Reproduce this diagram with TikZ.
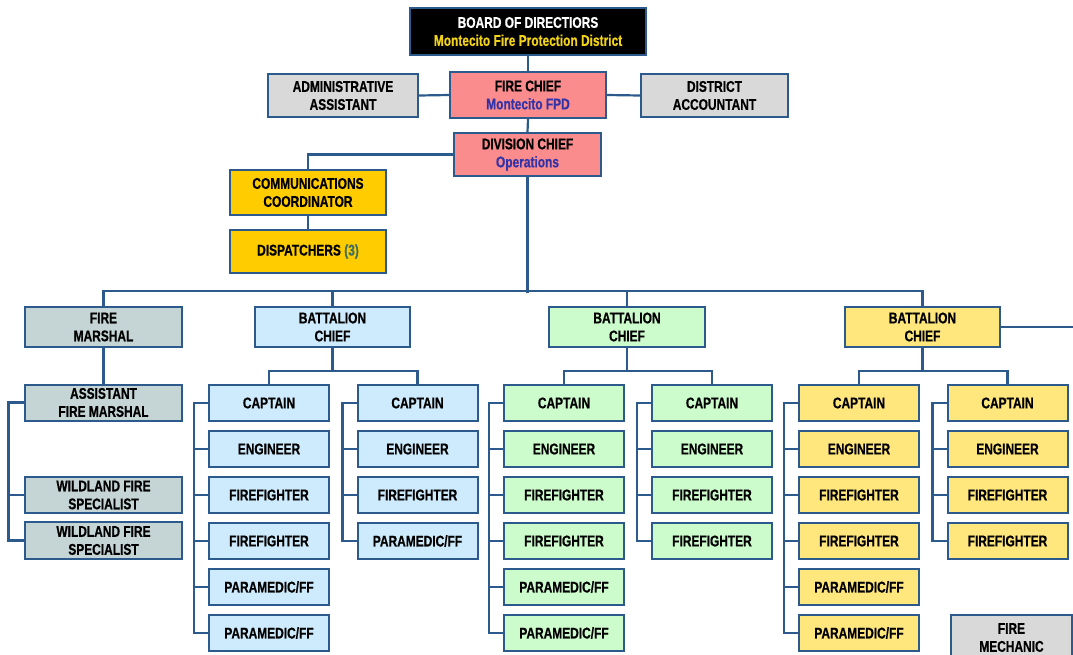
\documentclass[tikz,border=0pt]{standalone}
\usepackage{fontspec}
\setmainfont{Liberation Sans}[FakeStretch=0.77, BoldFeatures={FakeBold=0.6}]
\definecolor{ln}{HTML}{2D5A8C}
\definecolor{pinkf}{HTML}{FA8C8E}
\definecolor{grayf}{HTML}{D9D9D9}
\definecolor{goldf}{HTML}{FFCC00}
\definecolor{fmf}{HTML}{C5D5D5}
\definecolor{bluef}{HTML}{CDEBFC}
\definecolor{greenf}{HTML}{CCFCCC}
\definecolor{yelf}{HTML}{FFE77E}
\definecolor{subblue}{HTML}{3333A8}
\definecolor{subyel}{HTML}{F2D21A}
\definecolor{subgreen}{HTML}{3F6F5F}
\begin{document}
\begin{tikzpicture}[x=1pt,y=-1pt,
  box/.style={draw=ln, line width=2pt, align=center, inner sep=0pt,
    font=\bfseries\fontsize{15.5}{18}\selectfont},
  cell/.style={box, minimum width=120pt, minimum height=36pt},
  wire/.style={draw=ln, line width=2.2pt}]
\useasboundingbox (0,0) rectangle (1073,654);
\clip (0,0) rectangle (1073,654);
% top
\node[box, fill=black, text=white, minimum width=236pt, minimum height=47pt] (board) at (528,31.5)
  {BOARD OF DIRECTIORS\\\textcolor{subyel}{Montecito Fire Protection District}};
\node[box, fill=pinkf, minimum width=156pt, minimum height=46pt] (chief) at (528,95)
  {FIRE CHIEF\\\textcolor{subblue}{Montecito FPD}};
\node[box, fill=grayf, minimum width=150pt, minimum height=43pt] (admin) at (343,95.5)
  {ADMINISTRATIVE\\ASSISTANT};
\node[box, fill=grayf, minimum width=147pt, minimum height=43pt] (acct) at (714.5,95.5)
  {DISTRICT\\ACCOUNTANT};
\node[box, fill=pinkf, minimum width=147pt, minimum height=43pt] (div) at (527.5,154.5)
  {DIVISION CHIEF\\\textcolor{subblue}{Operations}};
\node[box, fill=goldf, minimum width=156pt, minimum height=45pt] (comm) at (308,192.5)
  {COMMUNICATIONS\\COORDINATOR};
\node[box, fill=goldf, minimum width=156pt, minimum height=43pt] (disp) at (308,251.5)
  {DISPATCHERS \textcolor{subgreen}{(3)}};
% second level
\node[box, fill=fmf, minimum width=157pt, minimum height=40pt] (fm) at (103.5,327) {FIRE\\MARSHAL};
\node[box, fill=bluef, minimum width=155pt, minimum height=40pt] (bc1) at (332.5,327) {BATTALION\\CHIEF};
\node[box, fill=greenf, minimum width=156pt, minimum height=40pt] (bc2) at (627,327) {BATTALION\\CHIEF};
\node[box, fill=yelf, minimum width=155pt, minimum height=40pt] (bc3) at (922.5,327) {BATTALION\\CHIEF};
% fire marshal branch
\node[box, fill=fmf, minimum width=157pt, minimum height=36pt] (afm) at (103.5,402.5) {ASSISTANT\\FIRE MARSHAL};
\node[box, fill=fmf, minimum width=157pt, minimum height=36pt] (wfs1) at (103.5,495) {WILDLAND FIRE\\SPECIALIST};
\node[box, fill=fmf, minimum width=157pt, minimum height=37pt] (wfs2) at (103.5,540.5) {WILDLAND FIRE\\SPECIALIST};
% blue columns
\node[cell, fill=bluef] (a1) at (269,403) {CAPTAIN};
\node[cell, fill=bluef] (a2) at (269,449) {ENGINEER};
\node[cell, fill=bluef] (a3) at (269,495) {FIREFIGHTER};
\node[cell, fill=bluef] (a4) at (269,541) {FIREFIGHTER};
\node[cell, fill=bluef] (a5) at (269,587) {PARAMEDIC/FF};
\node[cell, fill=bluef] (a6) at (269,633) {PARAMEDIC/FF};
\node[cell, fill=bluef] (b1) at (417.5,403) {CAPTAIN};
\node[cell, fill=bluef] (b2) at (417.5,449) {ENGINEER};
\node[cell, fill=bluef] (b3) at (417.5,495) {FIREFIGHTER};
\node[cell, fill=bluef] (b4) at (417.5,541) {PARAMEDIC/FF};
% green columns
\node[cell, fill=greenf] (c1) at (564,403) {CAPTAIN};
\node[cell, fill=greenf] (c2) at (564,449) {ENGINEER};
\node[cell, fill=greenf] (c3) at (564,495) {FIREFIGHTER};
\node[cell, fill=greenf] (c4) at (564,541) {FIREFIGHTER};
\node[cell, fill=greenf] (c5) at (564,587) {PARAMEDIC/FF};
\node[cell, fill=greenf] (c6) at (564,633) {PARAMEDIC/FF};
\node[cell, fill=greenf] (d1) at (712,403) {CAPTAIN};
\node[cell, fill=greenf] (d2) at (712,449) {ENGINEER};
\node[cell, fill=greenf] (d3) at (712,495) {FIREFIGHTER};
\node[cell, fill=greenf] (d4) at (712,541) {FIREFIGHTER};
% yellow columns
\node[cell, fill=yelf] (e1) at (859,403) {CAPTAIN};
\node[cell, fill=yelf] (e2) at (859,449) {ENGINEER};
\node[cell, fill=yelf] (e3) at (859,495) {FIREFIGHTER};
\node[cell, fill=yelf] (e4) at (859,541) {FIREFIGHTER};
\node[cell, fill=yelf] (e5) at (859,587) {PARAMEDIC/FF};
\node[cell, fill=yelf] (e6) at (859,633) {PARAMEDIC/FF};
\node[cell, fill=yelf] (f1) at (1007.5,403) {CAPTAIN};
\node[cell, fill=yelf] (f2) at (1007.5,449) {ENGINEER};
\node[cell, fill=yelf] (f3) at (1007.5,495) {FIREFIGHTER};
\node[cell, fill=yelf] (f4) at (1007.5,541) {FIREFIGHTER};
\node[box, fill=grayf, minimum width=121pt, minimum height=45pt] (mech) at (1011.5,637.5) {FIRE\\MECHANIC};
\coordinate (edge1) at (1073,327);
\coordinate (edge2) at (1073,632);
% connectors
\draw[wire] (board.south) -- (chief.north);
\draw[wire] (chief.south) -- (div.north);
\draw[wire] (admin.east) -- (chief.west);
\draw[wire] (chief.east) -- (acct.west);
\draw[wire] (div.west) -| (comm.north);
\draw[wire] (comm.south) -- (disp.north);
\draw[wire] (div.south) -- ++(0,116);
\draw[wire] (fm.north) -- ++(0,-15) -| (bc3.north);
\draw[wire] (bc1.north) -- ++(0,-15);
\draw[wire] (bc2.north) -- ++(0,-15);
\draw[wire] (bc3.east) -- (edge1);
\draw[wire] (mech.east |- edge2) -- (edge2);
% fire marshal
\draw[wire] (fm.south) -- (afm.north);
\draw[wire] (afm.west) -- ++(-15.5,0) |- (wfs2.west);
\draw[wire] (wfs1.west) -- ++(-15.5,0);
% battalion chiefs to captains
\draw[wire] (bc1.south) -- ++(0,23) -| (a1.north);
\draw[wire] (bc1.south) ++(0,23) -| (b1.north);
\draw[wire] (bc2.south) -- ++(0,23) -| (c1.north);
\draw[wire] (bc2.south) ++(0,23) -| (d1.north);
\draw[wire] (bc3.south) -- ++(0,23) -| (e1.north);
\draw[wire] (bc3.south) ++(0,23) -| (f1.north);
% spines
\foreach \c/\n in {a/6,c/6,e/6,b/4,d/4,f/4}{
  \draw[wire] (\c1.west) -- ++(-14,0) |- (\c\n.west);
  \foreach \k in {2,...,\n}{ \draw[wire] (\c\k.west) -- ++(-14,0); }
}
\end{tikzpicture}
\end{document}
